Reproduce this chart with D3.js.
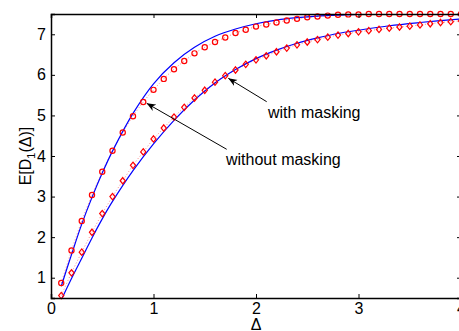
<!DOCTYPE html>
<html><head><meta charset="utf-8">
<script src="https://cdn.jsdelivr.net/npm/d3@7"></script>
<style>body{margin:0;background:#fff}svg{display:block}text{font-family:"Liberation Sans",Arial,Helvetica,sans-serif}</style>
</head><body>
<script>
const markerDelta = [0.1,0.2,0.3,0.4,0.5,0.6,0.7,0.8,0.9,1.0,1.1,1.2,1.3,1.4,1.5,1.6,1.7,1.8,1.9,2.0,2.1,2.2,2.3,2.4,2.5,2.6,2.7,2.8,2.9,3.0,3.1,3.2,3.3,3.4,3.5,3.6,3.7,3.8,3.9,4.0];
const withoutMaskingSim = [0.87,1.67,2.40,3.04,3.61,4.13,4.58,4.98,5.33,5.63,5.90,6.14,6.34,6.53,6.68,6.81,6.92,7.03,7.11,7.19,7.24,7.29,7.34,7.38,7.42,7.44,7.46,7.48,7.49,7.49,7.50,7.50,7.50,7.50,7.50,7.50,7.50,7.50,7.50,7.50];
const withMaskingSim = [0.56,1.12,1.63,2.12,2.58,3.00,3.39,3.77,4.10,4.42,4.69,4.96,5.20,5.43,5.62,5.82,5.98,6.12,6.26,6.37,6.47,6.57,6.66,6.74,6.81,6.87,6.93,6.98,7.02,7.06,7.09,7.12,7.15,7.18,7.20,7.23,7.26,7.29,7.31,7.33];
const curveDelta = [0.1,0.2,0.3,0.4,0.5,0.6,0.8,1.0,1.2,1.4,1.6,1.8,2.0,2.2,2.4,2.6,2.8,3.0,3.3,3.6,4.0];
const withoutMaskingTheory = [0.79,1.57,2.32,2.98,3.58,4.12,5.05,5.78,6.30,6.68,6.95,7.13,7.26,7.35,7.41,7.45,7.47,7.49,7.50,7.50,7.50];
const withMaskingTheory = [0.45,0.98,1.48,1.98,2.45,2.88,3.64,4.30,4.88,5.38,5.80,6.13,6.40,6.61,6.78,6.91,7.02,7.10,7.21,7.29,7.38];
const xTicks = [0,1,2,3,4];
const yTicks = [1,2,3,4,5,6,7];
const labels = ["with masking","without masking"];

const W=459,H=331;
const svg=d3.select("body").append("svg").attr("width",W).attr("height",H);
const L=51,R=461,T=14,B=298;
const x=d3.scaleLinear().domain([0,4]).range([L,R]);
const y=d3.scaleLinear().domain([0.5,7.5]).range([B,T]);

const defs=svg.append("defs");
defs.append("clipPath").attr("id","clip").append("rect")
  .attr("x",L).attr("y",T).attr("width",R-L).attr("height",B-T);
defs.append("marker").attr("id","arr").attr("viewBox","0 0 10 10").attr("refX",10).attr("refY",5)
  .attr("markerWidth",9).attr("markerHeight",9).attr("markerUnits","userSpaceOnUse").attr("orient","auto")
  .append("path").attr("d","M0,1 L10,5 L0,9 L3,5 Z").attr("fill","#000");

const simLine=d3.line().x(d=>x(d[0])).y(d=>y(d[1])).curve(d3.curveMonotoneX);
const thLine=d3.line().x(d=>x(d[0])).y(d=>y(d[1])).curve(d3.curveCatmullRom.alpha(0.5));
const g=svg.append("g").attr("clip-path","url(#clip)");
[withoutMaskingSim,withMaskingSim].forEach(s=>{
  g.append("path").attr("d",simLine(markerDelta.map((d,i)=>[d,s[i]])))
   .attr("fill","none").attr("stroke","#ff6666").attr("stroke-width",0.8).attr("stroke-dasharray","1,2.2");
});
[withoutMaskingTheory,withMaskingTheory].forEach(s=>{
  g.append("path").attr("d",thLine(curveDelta.map((d,i)=>[d,s[i]])))
   .attr("fill","none").attr("stroke","#0000ff").attr("stroke-width",1.2);
});
svg.append("g").selectAll("circle").data(markerDelta.map((d,i)=>[d,withoutMaskingSim[i]])).join("circle")
  .attr("cx",d=>x(d[0])).attr("cy",d=>y(d[1])).attr("r",2.6)
  .attr("fill","none").attr("stroke","#ff0000").attr("stroke-width",1.2);
svg.append("g").selectAll("path").data(markerDelta.map((d,i)=>[d,withMaskingSim[i]])).join("path")
  .attr("d",d=>{const cx=x(d[0]),cy=y(d[1]);return `M${cx},${cy-3.2}L${cx+2.6},${cy}L${cx},${cy+3.2}L${cx-2.6},${cy}Z`;})
  .attr("fill","none").attr("stroke","#ff0000").attr("stroke-width",1.2);

// axes
const fs=16;
const ax=svg.append("g").attr("transform",`translate(0,${B})`).call(d3.axisBottom(x).tickValues(xTicks).tickSize(-4).tickPadding(4).tickFormat(d3.format("d")));
const at=svg.append("g").attr("transform",`translate(0,${T})`).call(d3.axisTop(x).tickValues(xTicks).tickSize(-4).tickFormat(""));
const ay=svg.append("g").attr("transform",`translate(${L},0)`).call(d3.axisLeft(y).tickValues(yTicks).tickSize(-4).tickPadding(5).tickFormat(d3.format("d")));
const ar=svg.append("g").attr("transform",`translate(${R},0)`).call(d3.axisRight(y).tickValues(yTicks).tickSize(-4).tickFormat(""));
[ax,at,ay,ar].forEach(a=>{a.select(".domain").attr("stroke","#000").attr("stroke-width",1.5);
  a.selectAll(".tick line").attr("stroke","#000").attr("stroke-width",1);
  a.selectAll("text").attr("font-size",fs).attr("fill","#000").attr("font-family","Liberation Sans, Arial, sans-serif");});
ax.selectAll(".tick text").attr("dy","0.75em");

svg.append("text").attr("x",x(2)).attr("y",330).attr("text-anchor","middle").attr("font-size",fs).text("Δ");
const yl=svg.append("text").attr("transform",`translate(31,${(T+B)/2}) rotate(-90)`).attr("text-anchor","middle").attr("font-size",fs);
yl.append("tspan").text("E[D");
yl.append("tspan").attr("font-size",11).attr("dy",4).text("1");
yl.append("tspan").attr("dy",-4).text("(Δ)]");

// annotations
svg.append("text").attr("x",268).attr("y",117.5).attr("font-size",fs).text(labels[0]);
svg.append("text").attr("x",226).attr("y",165).attr("font-size",fs).text(labels[1]);
svg.append("line").attr("x1",266.7).attr("y1",101.7).attr("x2",228.3).attr("y2",78.3)
  .attr("stroke","#000").attr("stroke-width",1).attr("marker-end","url(#arr)");
svg.append("line").attr("x1",226.7).attr("y1",149.3).attr("x2",146.7).attr("y2",103.3)
  .attr("stroke","#000").attr("stroke-width",1).attr("marker-end","url(#arr)");
</script>
</body></html>
